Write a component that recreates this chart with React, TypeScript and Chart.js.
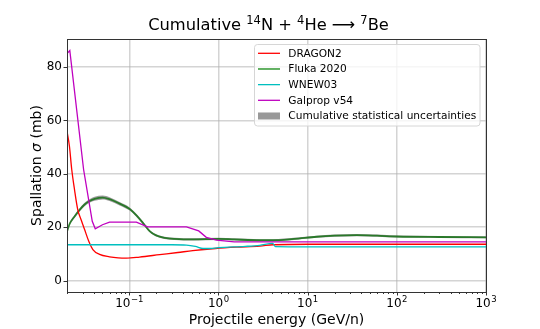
import React, { useEffect, useRef } from "react";
import { Chart, registerables } from "chart.js";

Chart.register(...registerables);

// ---------------- data ----------------
const dragonE = [0.02, 0.0213, 0.0226, 0.0243, 0.0264, 0.029, 0.0315, 0.035, 0.039, 0.0464, 0.06, 0.075, 0.0925, 0.13, 0.219, 0.35, 0.515, 0.925, 1.6, 2.9, 4.1, 10, 100, 1000];
const dragonV = [56, 50.3, 41.6, 34, 26.6, 22.5, 19.1, 14.8, 11.6, 9.8, 8.9, 8.5, 8.4, 8.8, 9.7, 10.5, 11.2, 12.0, 12.5, 12.9, 13.4, 13.6, 13.6, 13.6];

const flukaE = [0.02, 0.0214, 0.0243, 0.0277, 0.0315, 0.0358, 0.0408, 0.0502, 0.06, 0.0778, 0.1, 0.121, 0.142, 0.169, 0.2, 0.249, 0.323, 0.52, 1, 1.5, 2.9, 4.1, 7, 12.6, 20, 35.6, 60, 100, 300, 1000];
const flukaV = [18.3, 21.2, 24, 26.5, 28.5, 29.8, 30.6, 31.1, 30.5, 28.8, 26.9, 24.3, 21.6, 18.5, 16.9, 16.0, 15.6, 15.4, 15.6, 15.4, 15.1, 15.1, 15.6, 16.4, 16.8, 17.0, 16.8, 16.5, 16.3, 16.2];
const flukaErr = [0.45, 0.5, 0.55, 0.6, 0.65, 0.7, 0.75, 0.75, 0.7, 0.65, 0.6, 0.55, 0.5, 0.45, 0.45, 0.4, 0.4, 0.4, 0.4, 0.4, 0.4, 0.4, 0.4, 0.4, 0.4, 0.4, 0.4, 0.4, 0.4, 0.4];

const wnewE = [0.02, 0.3, 0.437, 0.55, 0.67, 0.8, 1, 2, 2.9, 4.05, 4.35, 10, 1000];
const wnewV = [13.4, 13.4, 13.3, 12.8, 12.0, 12.0, 12.3, 12.8, 13.2, 13.9, 12.7, 12.6, 12.6];

const galE = [0.02, 0.0215, 0.0307, 0.0384, 0.0415, 0.05, 0.06, 0.1, 0.12, 0.16, 0.437, 0.6, 0.73, 0.95, 1.5, 10, 1000];
const galV = [85, 86.2, 41.6, 22.2, 19.4, 20.9, 21.9, 21.9, 21.9, 20.1, 20.1, 18.6, 16.2, 15.1, 14.5, 14.5, 14.5];

const seriesLabels = ["DRAGON2", "Fluka 2020", "WNEW03", "Galprop v54", "Cumulative statistical uncertainties"];
const xMajorTicks = [0.1, 1, 10, 100, 1000];
const xTickExps = ["\u22121", "0", "1", "2", "3"];
const yTicks = [0, 20, 40, 60, 80];

// ---------------- styles ----------------
const FONT = "'DejaVu Sans', sans-serif";
const RED = "#ff0000";
const GREEN = "rgba(0,128,0,0.62)";
const GREEN_PLOT = "rgba(0,110,0,0.72)";
const CYAN = "#00bfbf";
const MAGENTA = "#bf00bf";
const BAND = "rgba(128,128,128,0.8)";
const GRID = "rgba(176,176,176,0.55)";
const AXIS = "#333333";

const pts = (xs: number[], ys: number[]) => xs.map((x, i) => ({ x, y: ys[i] }));

const overlay = {
  id: "overlay",
  afterDatasetsDraw(chart: any) {
    const { ctx, chartArea: a, scales } = chart;
    const xs = scales.x;
    const ys = scales.y;
    ctx.save();
    ctx.strokeStyle = AXIS;
    ctx.lineWidth = 1;
    ctx.strokeRect(Math.round(a.left) + 0.5, Math.round(a.top) + 0.5, Math.round(a.right - a.left), Math.round(a.bottom - a.top));
    ctx.beginPath();
    yTicks.forEach((v) => {
      const py = Math.round(ys.getPixelForValue(v)) + 0.5;
      ctx.moveTo(a.left - 3.5, py);
      ctx.lineTo(a.left, py);
    });
    xMajorTicks.forEach((v) => {
      const px = Math.round(xs.getPixelForValue(v)) + 0.5;
      ctx.moveTo(px, a.bottom);
      ctx.lineTo(px, a.bottom + 3.5);
    });
    for (let d = -2; d <= 2; d++) {
      for (let k = 2; k <= 9; k++) {
        const v = k * Math.pow(10, d);
        if (v < 0.02 - 1e-9 || v > 1000) continue;
        const px = Math.round(xs.getPixelForValue(v)) + 0.5;
        ctx.moveTo(px, a.bottom);
        ctx.lineTo(px, a.bottom + 2);
      }
    }
    ctx.stroke();
    ctx.restore();
  },
  afterDraw(chart: any) {
    const { ctx, chartArea: a, scales } = chart;
    const xs = scales.x;
    ctx.save();
    ctx.fillStyle = "#000";
    ctx.textBaseline = "alphabetic";
    ctx.textAlign = "left";

    xMajorTicks.forEach((v, i) => {
      const px = xs.getPixelForValue(v);
      ctx.font = `12px ${FONT}`;
      const w1 = ctx.measureText("10").width;
      ctx.font = `8.5px ${FONT}`;
      const w2 = ctx.measureText(xTickExps[i]).width;
      const x0 = px - (w1 + w2 + 0.5) / 2;
      ctx.font = `12px ${FONT}`;
      ctx.fillText("10", x0, 307);
      ctx.font = `8.5px ${FONT}`;
      ctx.fillText(xTickExps[i], x0 + w1 + 0.5, 301.5);
    });

    ctx.font = `14px ${FONT}`;
    ctx.textAlign = "center";
    ctx.fillText("Projectile energy (GeV/n)", (a.left + a.right) / 2, 324);

    ctx.textAlign = "left";
    const yParts: [string, string][] = [["Spallation ", `14px ${FONT}`], ["\u03c3", `italic 14px ${FONT}`], [" (mb)", `14px ${FONT}`]];
    let tw = 0;
    yParts.forEach(([t, f]) => { ctx.font = f; tw += ctx.measureText(t).width; });
    ctx.save();
    ctx.translate(40.5, (a.top + a.bottom) / 2);
    ctx.rotate(-Math.PI / 2);
    let cx = -tw / 2;
    yParts.forEach(([t, f]) => { ctx.font = f; ctx.fillText(t, cx, 0); cx += ctx.measureText(t).width; });
    ctx.restore();

    const big = `16.3px ${FONT}`;
    const sup = `11.5px ${FONT}`;
    const tParts: [string, boolean][] = [["Cumulative ", false], ["14", true], ["N + ", false], ["4", true], ["He ", false], ["\u27f6", false], [" ", false], ["7", true], ["Be", false]];
    let tt = 0;
    tParts.forEach(([t, s]) => { ctx.font = s ? sup : big; tt += ctx.measureText(t).width; });
    let tx = 268.5 - tt / 2;
    tParts.forEach(([t, s]) => {
      ctx.font = s ? sup : big;
      ctx.fillText(t, tx, s ? 24 : 30);
      tx += ctx.measureText(t).width;
    });

    const lx = 254.5, ly = 44.5, lw = 225.5, lh = 81.5, r = 3;
    ctx.beginPath();
    ctx.moveTo(lx + r, ly);
    ctx.lineTo(lx + lw - r, ly);
    ctx.quadraticCurveTo(lx + lw, ly, lx + lw, ly + r);
    ctx.lineTo(lx + lw, ly + lh - r);
    ctx.quadraticCurveTo(lx + lw, ly + lh, lx + lw - r, ly + lh);
    ctx.lineTo(lx + r, ly + lh);
    ctx.quadraticCurveTo(lx, ly + lh, lx, ly + lh - r);
    ctx.lineTo(lx, ly + r);
    ctx.quadraticCurveTo(lx, ly, lx + r, ly);
    ctx.closePath();
    ctx.fillStyle = "rgba(255,255,255,0.8)";
    ctx.fill();
    ctx.strokeStyle = "#d6d6d6";
    ctx.lineWidth = 1;
    ctx.stroke();

    const colors = [RED, GREEN, CYAN, MAGENTA];
    const widths = [1.3, 2, 1.3, 1.3];
    ctx.font = `10.6px ${FONT}`;
    ctx.textBaseline = "middle";
    seriesLabels.forEach((lab, i) => {
      const cy = 53.3 + i * 15.67;
      if (i < 4) {
        ctx.strokeStyle = colors[i];
        ctx.lineWidth = widths[i];
        ctx.beginPath();
        ctx.moveTo(258, cy);
        ctx.lineTo(280, cy);
        ctx.stroke();
      } else {
        ctx.fillStyle = BAND;
        ctx.fillRect(258, cy - 3.5, 22, 7);
      }
      ctx.fillStyle = "#000";
      ctx.fillText(lab, 288.3, cy + 0.5);
    });
    ctx.restore();
  },
};

export default function App() {
  const ref = useRef<HTMLCanvasElement>(null);
  useEffect(() => {
    const lo = flukaV.map((v, i) => v - flukaErr[i]);
    const hi = flukaV.map((v, i) => v + flukaErr[i]);
    const chart = new Chart(ref.current as HTMLCanvasElement, {
      type: "line",
      data: {
        datasets: [
          { label: seriesLabels[0], data: pts(dragonE, dragonV), borderColor: RED, borderWidth: 1.3, cubicInterpolationMode: "monotone", order: 4 },
          { label: seriesLabels[1], data: pts(flukaE, flukaV), borderColor: GREEN_PLOT, borderWidth: 1.8, cubicInterpolationMode: "monotone", order: 5 },
          { label: seriesLabels[2], data: pts(wnewE, wnewV), borderColor: CYAN, borderWidth: 1.3, cubicInterpolationMode: "monotone", order: 3 },
          { label: seriesLabels[3], data: pts(galE, galV), borderColor: MAGENTA, borderWidth: 1.3, tension: 0, order: 2 },
          { label: "lo", data: pts(flukaE, lo), borderWidth: 0, borderColor: "rgba(0,0,0,0)", cubicInterpolationMode: "monotone", fill: false, order: 10 },
          { label: "hi", data: pts(flukaE, hi), borderWidth: 0, borderColor: "rgba(0,0,0,0)", backgroundColor: BAND, cubicInterpolationMode: "monotone", fill: "-1", order: 9 },
        ] as any,
      },
      options: {
        responsive: false,
        animation: false,
        devicePixelRatio: 1,
        layout: { padding: { top: 39, right: 54, left: 0, bottom: 0 } },
        elements: { point: { radius: 0 }, line: { fill: false } },
        plugins: { legend: { display: false }, title: { display: false }, tooltip: { enabled: false } },
        scales: {
          x: {
            type: "logarithmic",
            min: 0.02,
            max: 1000,
            afterBuildTicks: (s: any) => { s.ticks = xMajorTicks.map((v) => ({ value: v })); },
            afterFit: (s: any) => { s.height = 37; },
            ticks: { display: false },
            grid: { color: GRID, lineWidth: 1.5, drawTicks: false },
            border: { display: false },
          },
          y: {
            type: "linear",
            min: -4.3,
            max: 90.5,
            afterBuildTicks: (s: any) => { s.ticks = yTicks.map((v) => ({ value: v })); },
            afterFit: (s: any) => { s.width = 67; },
            ticks: { font: { family: FONT, size: 12 }, color: "#000", padding: 5 },
            grid: { color: GRID, lineWidth: 1.5, drawTicks: false },
            border: { display: false },
          },
        },
      } as any,
      plugins: [overlay],
    });
    return () => chart.destroy();
  }, []);
  return (
    <div style={{ position: "fixed", left: 0, top: 0, width: 540, height: 329, background: "#fff" }}>
      <canvas ref={ref} width={540} height={329} style={{ display: "block", width: 540, height: 329 }} />
    </div>
  );
}
